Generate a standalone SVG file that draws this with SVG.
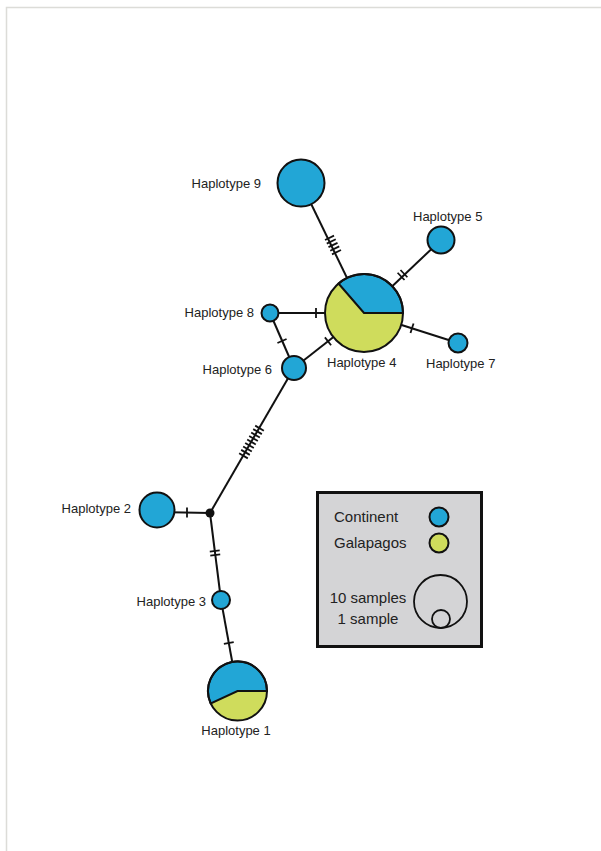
<svg xmlns="http://www.w3.org/2000/svg" width="601" height="851" viewBox="0 0 601 851">
<style>
.e{stroke:#111;stroke-width:2;fill:none}
.t{stroke:#111;stroke-width:1.8}
.n{stroke:#111;stroke-width:2}
.b{fill:#22a6d6}
.y{fill:#cfdc5c}
text{font-family:"Liberation Sans",Arial,sans-serif;font-size:13px;fill:#222}
.lg{font-size:15px}
</style>
<defs>
<path id="tk" d="M0,-5V5" class="t"/>
</defs>
<rect width="601" height="851" fill="#fff"/>
<path d="M6.5,851V7.5H601" stroke="#dcdcd8" stroke-width="1.5" fill="none"/>
<g id="connectors">
<line class="e" x1="301" y1="183" x2="364" y2="313"/>
<line class="e" x1="441" y1="240" x2="364" y2="313"/>
<line class="e" x1="270" y1="313" x2="364" y2="313"/>
<line class="e" x1="364" y1="313" x2="458" y2="343"/>
<line class="e" x1="294" y1="368" x2="364" y2="313"/>
<line class="e" x1="270" y1="313" x2="294" y2="368"/>
<line class="e" x1="294" y1="368" x2="210" y2="513"/>
<line class="e" x1="157" y1="512" x2="210" y2="513"/>
<line class="e" x1="210" y1="513" x2="221" y2="600"/>
<line class="e" x1="221" y1="600" x2="237.5" y2="691"/>
<g transform="translate(333,245) rotate(64.1)">
<use href="#tk" x="-8"/><use href="#tk" x="-4"/><use href="#tk"/><use href="#tk" x="4"/><use href="#tk" x="8"/>
</g>
<g transform="translate(402.5,275) rotate(-43.5)">
<use href="#tk" x="-2"/><use href="#tk" x="2"/>
</g>
<g transform="translate(316,313)"><use href="#tk"/></g>
<g transform="translate(412,328.3) rotate(17.7)"><use href="#tk"/></g>
<g transform="translate(328,341.3) rotate(-38.2)"><use href="#tk"/></g>
<g transform="translate(282,341) rotate(66)"><use href="#tk"/></g>
<g transform="translate(251.5,442) rotate(120.1)">
<use href="#tk" x="-16"/><use href="#tk" x="-12"/><use href="#tk" x="-8"/><use href="#tk" x="-4"/><use href="#tk"/><use href="#tk" x="4"/><use href="#tk" x="8"/><use href="#tk" x="12"/><use href="#tk" x="16"/>
</g>
<g transform="translate(187,512.5)"><use href="#tk"/></g>
<g transform="translate(215,553) rotate(82.8)">
<use href="#tk" x="-2"/><use href="#tk" x="2"/>
</g>
<g transform="translate(228.8,643) rotate(79.7)"><use href="#tk"/></g>
</g>
<g id="hap9"><circle class="n b" cx="301" cy="183" r="23.5"/><text x="261" y="188" text-anchor="end">Haplotype 9</text></g>
<g id="hap5"><circle class="n b" cx="441" cy="240" r="13.5"/><text x="413" y="221">Haplotype 5</text></g>
<g id="hap4">
<circle class="y" cx="364" cy="313" r="39"/>
<path class="n b" d="M364,313H403A39,39 0 0 0 338.5,283.5Z"/>
<circle class="n" cx="364" cy="313" r="39" fill="none"/>
<text x="327" y="367">Haplotype 4</text>
</g>
<g id="hap8"><circle class="n b" cx="270" cy="313" r="8.5"/><text x="254" y="317" text-anchor="end">Haplotype 8</text></g>
<g id="hap7"><circle class="n b" cx="458" cy="343" r="9.5"/><text x="426" y="368">Haplotype 7</text></g>
<g id="hap6"><circle class="n b" cx="294" cy="368" r="12"/><text x="272" y="374" text-anchor="end">Haplotype 6</text></g>
<g id="hap2"><circle class="n b" cx="157" cy="510" r="17.5"/><text x="131" y="513" text-anchor="end">Haplotype 2</text></g>
<g id="junction"><circle cx="210" cy="513" r="4.5" fill="#111"/></g>
<g id="hap3"><circle class="n b" cx="221" cy="600" r="9"/><text x="206" y="606" text-anchor="end">Haplotype 3</text></g>
<g id="hap1">
<circle class="y" cx="237.5" cy="691" r="29.5"/>
<path class="n b" d="M237.5,691H267A29.5,29.5 0 1 0 210.8,703.5Z"/>
<circle class="n" cx="237.5" cy="691" r="29.5" fill="none"/>
<text x="236" y="735" text-anchor="middle">Haplotype 1</text>
</g>
<g id="legend">
<rect x="317.5" y="492.5" width="164" height="154" fill="#d4d4d6" stroke="#111" stroke-width="3"/>
<text class="lg" x="334" y="522">Continent</text>
<circle class="n b" cx="439" cy="517" r="9.5"/>
<text class="lg" x="334" y="548">Galapagos</text>
<circle class="n y" cx="439" cy="543" r="9.5"/>
<text class="lg" x="368" y="603" text-anchor="middle">10 samples</text>
<text class="lg" x="368" y="624" text-anchor="middle">1 sample</text>
<circle cx="440.5" cy="601.5" r="26.5" fill="none" stroke="#111" stroke-width="1.8"/>
<circle cx="441" cy="619" r="9" fill="none" stroke="#111" stroke-width="1.8"/>
</g>
</svg>
